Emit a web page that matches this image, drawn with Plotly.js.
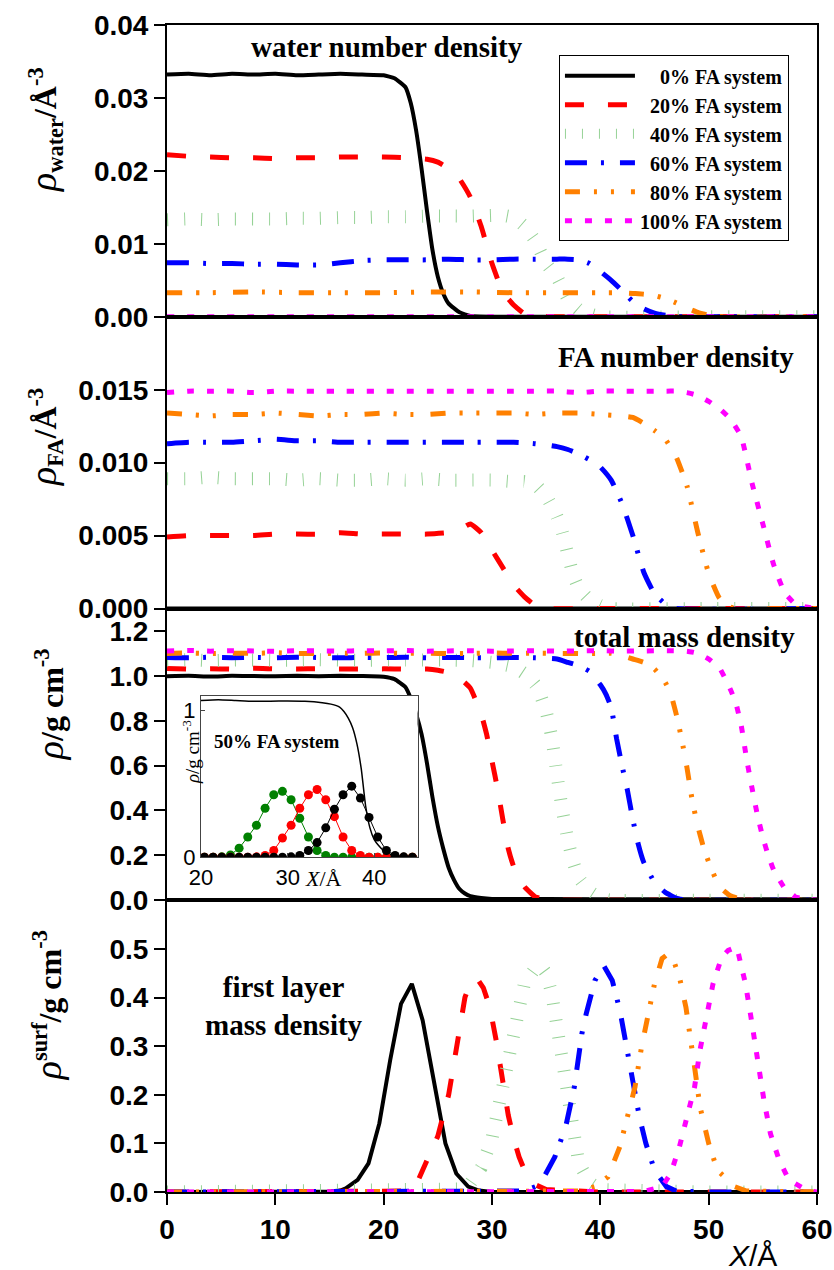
<!DOCTYPE html>
<html><head><meta charset="utf-8">
<script src="https://cdn.plot.ly/plotly-3.0.1.min.js"></script>
<style>body{margin:0;background:#fff}</style>
</head><body>
<div id="chart" style="width:834px;height:1270px"></div>
<script>
// ---------- series labels ----------
const seriesNames = ['0% FA system','20% FA system','40% FA system','60% FA system','80% FA system','100% FA system'];
const legendLabels = ['\u2002\u20020% FA system','\u200220% FA system','\u200240% FA system','\u200260% FA system','\u200280% FA system','100% FA system'];

// ---------- panel 1 : water number density ----------
const water_0_x = [0,2,4,6,8,10,12,14,16,18,20,21,22,22.5,23,23.5,24,24.5,25,25.5,26,27,28,30,40,50,60];
const water_0_y = [0.0332,0.0333,0.0331,0.0333,0.0332,0.0333,0.0331,0.0332,0.0333,0.0332,0.0331,0.0327,0.0315,0.0293,0.0255,0.0203,0.0145,0.0092,0.0055,0.0032,0.0018,0.0006,0.0001,0,0,0,0];
const water_20_x = [0,2,4,6,8,10,12,14,16,18,20,22,24,25,26,27,28,29,30,31,32,33,34,35,40,50,60];
const water_20_y = [0.0222,0.0220,0.0219,0.0218,0.0218,0.0217,0.0218,0.0218,0.0219,0.0219,0.0219,0.0218,0.0216,0.0212,0.0203,0.0189,0.0164,0.0124,0.0073,0.0034,0.0016,0.0004,0.0001,0,0,0,0];
const water_40_x = [0,2,4,6,8,10,12,14,16,18,20,22,24,26,28,30,31,32,33,34,35,36,37,38,39,40,50,60];
const water_40_y = [0.0133,0.0134,0.0133,0.0134,0.0134,0.0134,0.0135,0.0135,0.0136,0.0136,0.0137,0.0137,0.0138,0.0138,0.0138,0.0139,0.0139,0.0136,0.0124,0.0104,0.0073,0.0054,0.0025,0.0010,0.0004,0,0,0];
const water_60_x = [0,2,4,6,8,10,12,14,16,18,20,22,24,26,28,30,32,34,36,37,38,39,40,41,42,43,44,45,46,47,50,60];
const water_60_y = [0.0074,0.0074,0.0073,0.0073,0.0072,0.0072,0.0071,0.0071,0.0074,0.0077,0.0078,0.0078,0.0078,0.0079,0.0078,0.0078,0.0079,0.0079,0.0079,0.0079,0.0078,0.0073,0.0062,0.0050,0.0036,0.0021,0.0011,0.0005,0.0002,0,0,0];
const water_80_x = [0,4,8,12,16,20,24,28,32,36,40,42,43,44,45,46,47,48,49,50,51,60];
const water_80_y = [0.0033,0.0033,0.0034,0.0033,0.0033,0.0033,0.0034,0.0034,0.0033,0.0033,0.0033,0.0033,0.0032,0.0031,0.0029,0.0025,0.0019,0.0012,0.0006,0.0002,0,0];
const water_100_x = [0,10,20,30,40,50,60];
const water_100_y = [0,0,0,0,0,0,0];

// ---------- panel 2 : FA number density ----------
const fa_0_x = [0,10,20,30,40,50,60];
const fa_0_y = [0,0,0,0,0,0,0];
const fa_20_x = [0,2,4,6,8,10,12,14,16,18,20,22,24,26,27,28,29,30,31,32,33,34,35,40,50,60];
const fa_20_y = [0.0049,0.0050,0.0050,0.0050,0.0050,0.0051,0.0051,0.0051,0.0052,0.0051,0.0051,0.0051,0.0051,0.0052,0.0054,0.0058,0.0052,0.0040,0.0028,0.0016,0.0008,0.0002,0,0,0,0];
const fa_40_x = [0,2,4,6,8,10,12,14,16,18,20,22,24,26,28,30,32,33,34,35,36,36.5,37,37.5,38,39,40,41,50,60];
const fa_40_y = [0.0089,0.0089,0.0090,0.0089,0.0089,0.0089,0.0088,0.0089,0.0088,0.0088,0.0089,0.0088,0.0089,0.0088,0.0088,0.0088,0.0087,0.0087,0.0085,0.0077,0.0063,0.0052,0.0037,0.0023,0.0014,0.0006,0.0002,0,0,0];
const fa_60_x = [0,2,4,6,8,10,12,14,16,18,20,22,24,26,28,30,32,34,36,37,38,39,40,41,42,43,44,45,46,47,60];
const fa_60_y = [0.0113,0.0114,0.0114,0.0114,0.0115,0.0116,0.0115,0.0115,0.0114,0.0114,0.0114,0.0114,0.0114,0.0114,0.0114,0.0114,0.0114,0.0113,0.0111,0.0109,0.0106,0.0102,0.0097,0.0088,0.0072,0.0050,0.0025,0.0010,0.0003,0,0];
const fa_80_x = [0,2,4,6,8,10,12,14,16,18,20,22,24,26,28,30,32,34,36,38,40,42,43,44,45,46,47,48,49,50,51,52,53,60];
const fa_80_y = [0.0134,0.0133,0.0132,0.0133,0.0133,0.0134,0.0133,0.0132,0.0133,0.0133,0.0134,0.0133,0.0133,0.0134,0.0134,0.0134,0.0134,0.0133,0.0134,0.0134,0.0133,0.0132,0.0131,0.0127,0.0122,0.0116,0.0104,0.0084,0.0052,0.0024,0.0007,0.0001,0,0];
const fa_100_x = [0,2,4,6,8,10,12,14,16,18,20,22,24,26,28,30,32,34,36,38,40,42,44,46,47,48,49,50,51,52,53,54,55,56,57,58,59,60];
const fa_100_y = [0.0148,0.0149,0.0149,0.0149,0.0148,0.0149,0.0149,0.0149,0.0149,0.0149,0.0149,0.0149,0.0149,0.0149,0.0149,0.0149,0.0149,0.0149,0.0149,0.0148,0.0149,0.0149,0.0149,0.0149,0.0149,0.0148,0.0146,0.0142,0.0137,0.0130,0.0118,0.0086,0.0058,0.0030,0.0011,0.0003,0.0001,0];

// ---------- panel 3 : total mass density ----------
const mass_0_x = [0,2,4,6,8,10,12,14,16,18,20,21,22,22.5,23,23.5,24,24.5,25,25.5,26,26.5,27,27.5,28,29,30,40,50,60];
const mass_0_y = [0.998,1.0,0.997,1.0,0.999,0.998,1.0,0.998,1.0,0.999,0.996,0.985,0.95,0.90,0.83,0.74,0.61,0.46,0.33,0.23,0.145,0.09,0.05,0.03,0.018,0.01,0.006,0.005,0.005,0.005];
const mass_20_x = [0,2,4,6,8,10,12,14,16,18,20,22,24,25,26,27,28,29,29.5,30,30.5,31,31.5,32,33,34,35,36,40,50,60];
const mass_20_y = [1.033,1.030,1.032,1.030,1.034,1.031,1.030,1.032,1.030,1.030,1.031,1.030,1.030,1.025,1.015,0.99,0.945,0.83,0.74,0.62,0.50,0.36,0.23,0.15,0.06,0.015,0.003,0,0,0,0];
const mass_40_x = [0,2,4,6,8,10,12,14,16,18,20,22,24,26,28,30,32,33,34,34.5,35,35.5,36,36.5,37,37.5,38,39,40,41,50,60];
const mass_40_y = [1.070,1.072,1.068,1.070,1.071,1.069,1.070,1.072,1.070,1.069,1.070,1.071,1.070,1.070,1.068,1.06,1.04,1.01,0.96,0.91,0.84,0.73,0.56,0.40,0.27,0.17,0.10,0.04,0.01,0,0,0];
const mass_60_x = [0,2,4,6,8,10,12,14,16,18,20,22,24,26,28,30,32,34,36,37,38,39,40,40.5,41,41.5,42,42.5,43,43.5,44,45,46,47,48,50,60];
const mass_60_y = [1.082,1.080,1.083,1.081,1.082,1.080,1.083,1.082,1.080,1.082,1.081,1.083,1.080,1.082,1.081,1.080,1.082,1.080,1.075,1.06,1.045,1.02,0.96,0.92,0.86,0.72,0.60,0.49,0.36,0.25,0.17,0.08,0.035,0.01,0,0,0];
const mass_80_x = [0,2,4,6,8,10,12,14,16,18,20,22,24,26,28,30,32,34,36,38,40,41,42,43,44,45,46,46.5,47,47.5,48,48.5,49,49.5,50,51,52,53,54,60];
const mass_80_y = [1.100,1.102,1.099,1.101,1.100,1.103,1.100,1.099,1.101,1.100,1.102,1.100,1.101,1.099,1.100,1.102,1.100,1.101,1.100,1.099,1.100,1.10,1.09,1.075,1.06,1.03,0.97,0.92,0.83,0.72,0.59,0.44,0.33,0.24,0.17,0.06,0.02,0.005,0,0];
const mass_100_x = [0,2,4,6,8,10,12,14,16,18,20,22,24,26,28,30,32,34,36,38,40,42,44,46,48,49,50,51,51.5,52,52.5,53,53.5,54,54.5,55,55.5,56,57,58,59,60];
const mass_100_y = [1.111,1.113,1.110,1.112,1.111,1.109,1.112,1.111,1.110,1.112,1.111,1.113,1.110,1.111,1.112,1.110,1.111,1.112,1.110,1.111,1.112,1.110,1.111,1.112,1.11,1.10,1.075,1.035,0.99,0.94,0.88,0.78,0.63,0.50,0.38,0.28,0.20,0.135,0.055,0.015,0.004,0];

// ---------- panel 4 : first layer mass density ----------
const surf_0_x = [0,5,10,14,15,16,16.5,17.6,18.6,19.6,20.6,21.6,22.6,23.6,24.7,25.7,26.7,27.8,28.8,30,40,50,60];
const surf_0_y = [0,0,0,0,0.001,0.003,0.0075,0.025,0.059,0.141,0.271,0.387,0.428,0.353,0.216,0.1,0.038,0.011,0.003,0,0,0,0];
const surf_20_x = [0,10,20,22,23,23.5,24,25,26,27,27.5,28,28.6,29.2,29.8,30.4,31,31.5,32,32.5,33,34,35,40,50,60];
const surf_20_y = [0,0,0,0.002,0.015,0.04,0.065,0.115,0.2,0.33,0.40,0.43,0.44,0.42,0.38,0.31,0.22,0.158,0.11,0.072,0.045,0.015,0.005,0,0,0];
const surf_40_x = [0,10,20,26,27,28,29,30,31,32,33,34,34.5,35,35.5,36,36.5,37,37.5,38,39,40,50,60];
const surf_40_y = [0,0,0,0.002,0.006,0.018,0.05,0.11,0.22,0.34,0.43,0.46,0.465,0.45,0.41,0.34,0.26,0.18,0.11,0.06,0.02,0.005,0,0];
const surf_60_x = [0,10,20,30,33,34,34.8,35.8,36.8,37.6,37.9,38.3,38.7,39.5,40.3,41.1,41.8,42.2,42.8,43.6,44.2,45,46.1,47,50,60];
const surf_60_y = [0,0,0,0,0.002,0.011,0.031,0.072,0.134,0.216,0.271,0.326,0.367,0.435,0.466,0.435,0.374,0.323,0.25,0.155,0.1,0.045,0.011,0.002,0,0];
const surf_80_x = [0,10,20,30,38,39.5,40.7,41.8,42.6,43.2,43.8,44.4,45,45.7,46.1,46.7,47.3,47.9,48.3,48.7,49.2,50,50.8,52.4,53.5,60];
const surf_80_y = [0,0,0,0,0.002,0.011,0.031,0.093,0.162,0.216,0.298,0.36,0.428,0.48,0.487,0.48,0.442,0.38,0.326,0.257,0.175,0.1,0.045,0.011,0.002,0];
const surf_100_x = [0,10,20,30,40,44,45.7,46.5,47.3,48.1,48.7,49.2,49.8,50.4,51.2,51.8,52.6,53.4,53.9,54.5,55.1,55.7,56.5,57.4,59,60];
const surf_100_y = [0,0,0,0,0,0.001,0.011,0.038,0.093,0.168,0.216,0.292,0.36,0.428,0.483,0.497,0.504,0.428,0.36,0.271,0.189,0.12,0.066,0.025,0.004,0];

// ---------- inset : 50% FA system ----------
const inset_line_x = [20,22,24,26,28,30,32,34,35,36,36.5,37,37.5,38,38.5,39,39.5,40,40.5,41,42,43,45];
const inset_line_y = [1.065,1.07,1.065,1.06,1.06,1.062,1.06,1.05,1.04,1.02,0.99,0.945,0.88,0.77,0.6,0.35,0.2,0.12,0.08,0.05,0.015,0.005,0];
const inset_x = [20.4,21.4,22.4,23.4,24.4,25.4,26.4,27.4,28.4,29.4,30.4,31.4,32.4,33.4,34.4,35.4,36.4,37.4,38.4,39.4,40.4,41.4,42.4,43.4,44.4];
const inset_green = [0,0,0.003,0.016,0.062,0.138,0.218,0.333,0.425,0.448,0.391,0.265,0.138,0.046,0.012,0,0,0,0,0,0,0,0,0,0];
const inset_red = [0,0,0,0,0,0,0.003,0.012,0.046,0.131,0.218,0.333,0.425,0.46,0.391,0.276,0.138,0.046,0.012,0,0,0,0,0,0];
const inset_black = [0,0,0,0,0,0,0,0,0,0.001,0.003,0.012,0.046,0.1,0.2,0.326,0.425,0.483,0.402,0.271,0.138,0.046,0.012,0.003,0];

// ---------- tick labels ----------
const xTicks = [0,10,20,30,40,50,60];
const y1Ticks = [0,0.01,0.02,0.03,0.04];
const y1Text = ['0.00','0.01','0.02','0.03','0.04'];
const y2Ticks = [0,0.005,0.01,0.015];
const y2Text = ['0.000','0.005','0.010','0.015'];
const y3Ticks = [0,0.2,0.4,0.6,0.8,1.0,1.2];
const y3Text = ['0.0','0.2','0.4','0.6','0.8','1.0','1.2'];
const y4Ticks = [0,0.1,0.2,0.3,0.4,0.5];
const y4Text = ['0.0','0.1','0.2','0.3','0.4','0.5'];
const insetXTicks = [20,30,40];
const insetYTicks = [0,1];

// ---------- styles ----------
const sColors = ['#000000','#ff0000','rgb(150,210,150)','#0000ff','#ff8000','#ff00ff'];
const sWidths = [4,5,13,5,5,5];
const sDash = ['solid','19px,24px','1px,16px','22px,14px,3px,16px','15px,14px,3px,14px,3px,17px','7px,13px'];

const panels = [
  {xs:[water_0_x,water_20_x,water_40_x,water_60_x,water_80_x,water_100_x], ys:[water_0_y,water_20_y,water_40_y,water_60_y,water_80_y,water_100_y], shape:'spline'},
  {xs:[fa_0_x,fa_20_x,fa_40_x,fa_60_x,fa_80_x,fa_100_x], ys:[fa_0_y,fa_20_y,fa_40_y,fa_60_y,fa_80_y,fa_100_y], shape:'spline'},
  {xs:[mass_0_x,mass_20_x,mass_40_x,mass_60_x,mass_80_x,mass_100_x], ys:[mass_0_y,mass_20_y,mass_40_y,mass_60_y,mass_80_y,mass_100_y], shape:'spline'},
  {xs:[surf_0_x,surf_20_x,surf_40_x,surf_60_x,surf_80_x,surf_100_x], ys:[surf_0_y,surf_20_y,surf_40_y,surf_60_y,surf_80_y,surf_100_y], shape:'linear'}
];

const traces = [];
panels.forEach((p, pi) => {
  const k = pi + 1;
  for (let s = 0; s < 6; s++) {
    traces.push({
      type:'scatter', mode:'lines',
      x:p.xs[s], y:p.ys[s],
      xaxis:'x'+k, yaxis:'y'+k,
      name: legendLabels[s],
      showlegend: pi === 0,
      line:{color:sColors[s], width:sWidths[s], dash:sDash[s], shape:p.shape, smoothing:0.4},
      hoverinfo:'skip'
    });
  }
});
// inset traces
traces.push({type:'scatter', mode:'lines', x:inset_line_x, y:inset_line_y, xaxis:'x5', yaxis:'y5', showlegend:false,
  line:{color:'#000', width:1.5, shape:'spline', smoothing:0.5}});
[[inset_green,'#008000'],[inset_red,'#ff0000'],[inset_black,'#000000']].forEach(([yy,c]) => {
  traces.push({type:'scatter', mode:'lines+markers', x:inset_x, y:yy, xaxis:'x5', yaxis:'y5', showlegend:false,
    line:{color:c, width:1}, marker:{color:c, size:9}});
});

const tickFont = {family:'Liberation Sans, Arial, sans-serif', size:28, weight:'bold', color:'#000'};
const serifBold = {family:'Liberation Serif, Times New Roman, serif', weight:'bold', color:'#000'};
const domains = [[0.75,1],[0.5,0.75],[0.25,0.5],[0,0.25]];
const ranges = [[0,0.04],[0,0.02],[0,1.3],[0,0.6]];
const yt = [[y1Ticks,y1Text],[y2Ticks,y2Text],[y3Ticks,y3Text],[y4Ticks,y4Text]];

const layout = {
  width:834, height:1270,
  margin:{l:167, r:17, t:25, b:78},
  paper_bgcolor:'#fff', plot_bgcolor:'#fff',
  font:{family:'Liberation Sans, Arial, sans-serif', color:'#000'},
  showlegend:true,
  legend:{x:0.603, y:0.974, xanchor:'left', yanchor:'top', bgcolor:'#fff', bordercolor:'#000', borderwidth:1,
    font:Object.assign({size:20}, serifBold), itemwidth:70, tracegroupgap:0},
  annotations:[],
  hovermode:false
};

for (let k = 1; k <= 4; k++) {
  layout['xaxis'+k] = {domain:[0,1], range:[0,60], anchor:'y'+k, showline:true, mirror:true, linecolor:'#000', linewidth:2,
    ticks: k===4 ? 'outside' : '', ticklen:11, tickwidth:2, tickcolor:'#000', showticklabels: k===4,
    tickvals:xTicks, tickfont:tickFont, showgrid:false, zeroline:false};
  layout['yaxis'+k] = {domain:domains[k-1], range:ranges[k-1], anchor:'x'+k, showline:true, mirror:true, linecolor:'#000', linewidth:2,
    ticks:'outside', ticklen:11, tickwidth:2, tickcolor:'#000', tickvals:yt[k-1][0], ticktext:yt[k-1][1],
    tickfont:tickFont, showgrid:false, zeroline:false};
}
layout.xaxis5 = {domain:[0.0523,0.3855], range:[20,45], anchor:'y5', showline:true, mirror:true, linecolor:'#444', linewidth:1,
  ticks:'inside', ticklen:4, tickcolor:'#444', tickvals:insetXTicks,
  tickfont:{family:'Liberation Sans, Arial, sans-serif', size:22, color:'#000'}, showgrid:false, zeroline:false};
layout.yaxis5 = {domain:[0.2868,0.425], range:[0,1.095], anchor:'x5', showline:true, mirror:true, linecolor:'#444', linewidth:1,
  ticks:'inside', ticklen:4, tickcolor:'#444', tickvals:insetYTicks,
  tickfont:{family:'Liberation Sans, Arial, sans-serif', size:22, color:'#000'}, showgrid:false, zeroline:false};

function ann(text, x, y, font, extra) {
  layout.annotations.push(Object.assign({text:text, x:x, y:y, xref:'paper', yref:'paper', showarrow:false,
    xanchor:'center', yanchor:'middle', font:font}, extra || {}));
}
const titleFont = Object.assign({size:29}, serifBold);
ann('water number density', 0.338, 0.981, titleFont);
ann('FA number density', 0.7837, 0.7155, titleFont);
ann('total mass density', 0.7958, 0.4756, titleFont);
ann('first layer<br>mass density', 0.18, 0.159, titleFont);
ann('50% FA system', 0.168, 0.3859, Object.assign({size:19}, serifBold));

const yTitleFont = Object.assign({size:32}, serifBold);
const rho = '<span style="font-size:38px;font-weight:normal"><i>ρ</i></span>';
ann(rho + '<sub>water</sub>/Å<sup>-3</sup>', -0.1877, 0.9109, yTitleFont, {textangle:-90});
ann(rho + '<sub>FA</sub>/Å<sup>-3</sup>', -0.1877, 0.647, yTitleFont, {textangle:-90});
ann(rho + '/g cm<sup>-3</sup>', -0.18, 0.418, yTitleFont, {textangle:-90});
ann(rho + '<sup>surf</sup>/g cm<sup>-3</sup>', -0.183, 0.160, yTitleFont, {textangle:-90});

ann('<i>X</i>/Å', 0.9015, -0.054, {family:'Liberation Sans, Arial, sans-serif', size:30, color:'#000'});
ann('<i>ρ</i>/g cm<sup>-3</sup>', 0.037, 0.377, {family:'Liberation Serif, Times New Roman, serif', size:19, color:'#000'}, {textangle:-90});
ann('<i>X</i>/Å', 0.24, 0.269, {family:'Liberation Serif, Times New Roman, serif', size:22, color:'#000'});

Plotly.newPlot('chart', traces, layout, {staticPlot:true, displayModeBar:false});
</script>
</body></html>
